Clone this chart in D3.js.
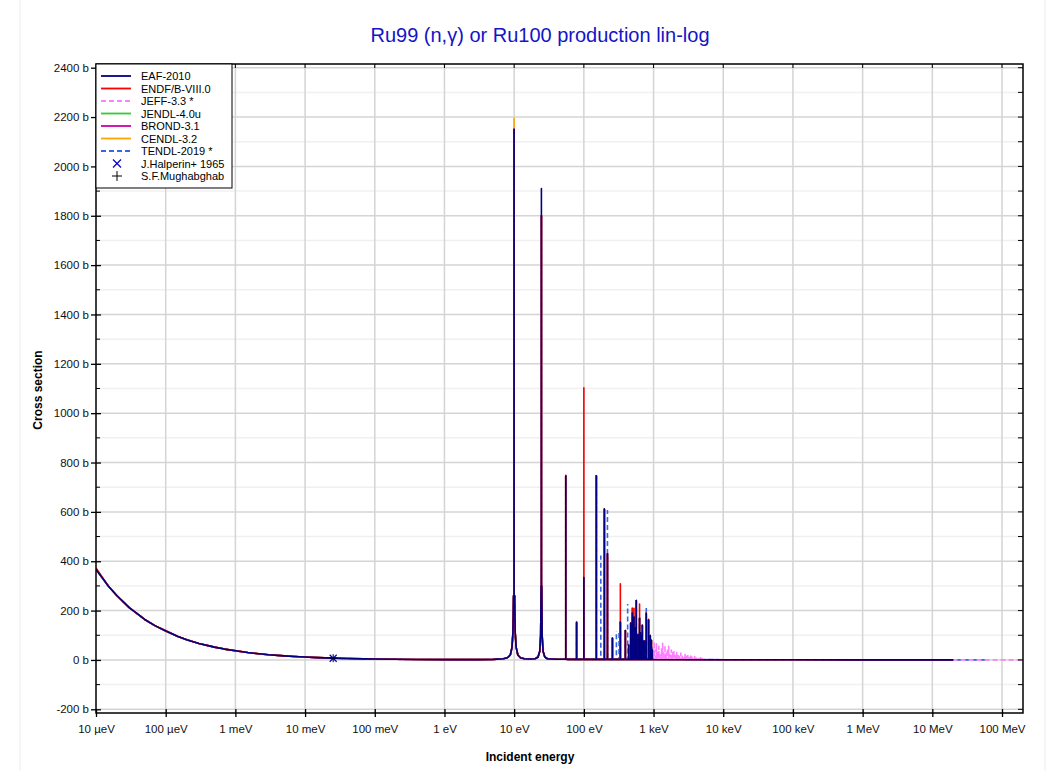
<!DOCTYPE html>
<html>
<head>
<meta charset="utf-8">
<script src="https://cdnjs.cloudflare.com/ajax/libs/d3/7.8.5/d3.min.js"></script>
<style>
body{margin:0;background:#fff}
text{font-family:"Liberation Sans",Arial,sans-serif}
</style>
</head>
<body>
<div id="chart"></div>
<script>
// axis ticks
const xTickValues=[1e-5,1e-4,1e-3,1e-2,1e-1,1,10,100,1e3,1e4,1e5,1e6,1e7,1e8]
const xTickLabels=["10 µeV","100 µeV","1 meV","10 meV","100 meV","1 eV","10 eV","100 eV","1 keV","10 keV","100 keV","1 MeV","10 MeV","100 MeV"]
const yTickValues=[-200,0,200,400,600,800,1000,1200,1400,1600,1800,2000,2200,2400]

// libraries (legend order)
const libNames=["EAF-2010","ENDF/B-VIII.0","JEFF-3.3 *","JENDL-4.0u","BROND-3.1","CENDL-3.2","TENDL-2019 *"]
const libColors=["#000080","#ff0000","#ff80ff","#33cc33","#cc00aa","#ffa500","#3366ee"]
const libDashed=[false,false,true,false,false,false,true]
const libEnd=[2e7,2e7,2e8,2e7,2e7,2e7,6e7]

// smooth part of the curve, shared by all libraries (energy eV, barn)
const baseEnergy=[1e-5,1.5e-5,2e-5,3e-5,5e-5,7e-5,1e-4,1.5e-4,2e-4,3e-4,5e-4,7e-4,1e-3,1.5e-3,2e-3,3e-3,5e-3,7e-3,1e-2,0.015,0.0253,0.04,0.07,0.1,0.2,0.4,1,3,5,
  7,8,8.8,9.3,9.6,9.8,10.15,10.35,10.7,11.3,12.3,14,17,
  20,22,23.3,24.0,24.35,24.85,25.2,26,27.5,30,40,60,1000,1e4,1e5,1e6,2e7,6e7,2e8]
const baseSigma=[367,300,260,212,164,139,117,95,82,67,52,44,37,30,26,21,16.5,14,11.7,9.5,7.3,5.8,4.4,3.7,2.6,1.9,1.3,1.4,2.5,
  5,9,20,50,110,260,260,110,50,20,9,5,4,
  5,12,35,100,300,300,100,35,12,5,3,2.5,2,1,0.5,0.3,0.3,0.3,0.3]
// ENDF/B-VIII.0 lies a touch above the others in the 1/v region
const endfShiftEnergy=[1e-5,1e-4,1e-3,1e-2,0.1,1]
const endfShift=[6,2,0.6,0.2,0.1,0]

// resonance peaks
const resEnergy=[9.97,24.6,55,78.7,100,151,175,197,218,257,293,320,334,394,425,440,470,496,524,545,565,597,630,650,672,690,710,745,786,847,897,930,960]
const eafRes  =[2150,1910,745,152,334,746,0,611,430,88,0,0,154,119,0,60,150,190,174,130,241,103,169,110,99,140,77,77,189,162,99,80,40]
const endfRes =[2150,1800,748,155,1103,746,0,611,430,90,0,0,309,119,0,60,150,210,209,130,241,103,227,110,99,140,77,77,189,165,99,80,40]
const jeffRes =[2150,1800,745,152,334,746,0,611,430,88,0,0,154,119,0,60,150,190,174,130,241,103,169,110,99,140,77,77,189,162,99,80,40]
const jendlRes=[2150,1800,745,152,334,746,0,611,430,88,0,0,154,119,0,60,150,190,174,130,241,103,169,110,99,140,77,77,189,162,99,80,40]
const brondRes=[2150,1800,745,152,334,746,0,611,430,88,0,0,154,119,0,60,150,190,174,130,241,103,169,110,99,140,77,77,189,162,99,80,40]
const cendlRes=[2195,1800,745,152,334,746,0,611,430,88,0,0,154,119,0,60,150,190,174,130,241,103,169,110,99,140,77,77,189,162,99,80,40]
const tendlRes=[2150,1800,745,152,334,746,423,0,608,88,117,117,154,119,227,60,106,223,174,130,241,103,169,110,99,140,77,77,219,162,99,80,60]

// JEFF-3.3 fluctuations between 1 and 5 keV
const jeffUrrEnergy=[1020,1060,1100,1150,1190,1240,1300,1350,1400,1460,1520,1580,1650,1720,1800,1880,1960,2050,2150,2250,2350,2460,2580,2700,2830,2970,3100,3250,3400,3560,3730,3900,4100,4300,4500,4750,5000]
const jeffUrrSigma=[75,40,65,30,55,25,48,70,35,60,28,45,55,22,40,30,38,18,30,25,15,28,20,12,22,15,18,10,16,12,9,14,8,11,7,9,6]

// experimental points
const halperinE=[0.0253], halperinS=[6.9]
const mughabghabE=[0.0253], mughabghabS=[7.3]

const width=1053, height=771
const pLeft=96, pRight=1023, pTop=64, pBottom=713

const svg=d3.select("#chart").append("svg").attr("width",width).attr("height",height)

const xScale=d3.scaleLog().domain([1e-5,2e8]).range([pLeft,pRight])
const yScale=d3.scaleLinear().domain([-215,2415]).range([pBottom,pTop])

// faint page frame lines
svg.append("line").attr("x1",20).attr("x2",20).attr("y1",0).attr("y2",height).attr("stroke","#ececec")
svg.append("line").attr("x1",1045).attr("x2",1045).attr("y1",0).attr("y2",height).attr("stroke","#ececec")

// grid
const minorY=d3.range(-200,2401,100).filter(v=>v%200!=0)
svg.append("g").selectAll("line").data(minorY).enter().append("line")
  .attr("x1",pLeft).attr("x2",pRight).attr("y1",d=>yScale(d)).attr("y2",d=>yScale(d))
  .attr("stroke","#f0f0f0").attr("stroke-width",1.5)
svg.append("g").selectAll("line").data(yTickValues).enter().append("line")
  .attr("x1",pLeft).attr("x2",pRight).attr("y1",d=>yScale(d)).attr("y2",d=>yScale(d))
  .attr("stroke","#d4d4d4").attr("stroke-width",1.5)
svg.append("g").selectAll("line").data(xTickValues.slice(1)).enter().append("line")
  .attr("x1",d=>xScale(d)).attr("x2",d=>xScale(d)).attr("y1",pTop).attr("y2",pBottom)
  .attr("stroke","#d4d4d4").attr("stroke-width",1.5)

// build the path points of one library: smooth curve + vertical spikes
// (for TENDL a null after each spike top breaks the path so dashes stay visible)
function buildSeries(i,res){
  let pts=[]
  baseEnergy.forEach((e,k)=>{
    if(e>libEnd[i]) return
    let s=baseSigma[k]
    if(i==1){ let j=endfShiftEnergy.indexOf(e); if(j>=0) s+=endfShift[j] }
    pts.push({e:e,s:s,peak:false})
  })
  resEnergy.forEach((e,k)=>{ if(res[k]>0) pts.push({e:e,s:res[k],peak:true}) })
  if(i==2) jeffUrrEnergy.forEach((e,k)=>pts.push({e:e,s:jeffUrrSigma[k],peak:true}))
  pts.sort((a,b)=>a.e-b.e)
  let out=[], last=0
  pts.forEach(p=>{
    if(p.peak){
      out.push([p.e,last]); out.push([p.e,p.s])
      if(i==6) out.push(null)
      out.push([p.e,last])
    }
    else { out.push([p.e,p.s]); last=p.s }
  })
  return out
}

const allRes=[eafRes,endfRes,jeffRes,jendlRes,brondRes,cendlRes,tendlRes]

svg.append("clipPath").attr("id","clip").append("rect").attr("x",pLeft).attr("y",pTop).attr("width",pRight-pLeft).attr("height",pBottom-pTop)

const line=d3.line().defined(d=>d!=null).x(d=>xScale(d[0])).y(d=>yScale(d[1]))
const plot=svg.append("g").attr("clip-path","url(#clip)")
// draw last library first so EAF ends up on top
const drawOrder=[6,5,4,3,2,1,0]
drawOrder.forEach(i=>{
  plot.append("path").datum(buildSeries(i,allRes[i]))
    .attr("d",line).attr("fill","none")
    .attr("stroke",libColors[i]).attr("stroke-width",1.6)
    .attr("stroke-linejoin","round")
    .attr("stroke-dasharray",libDashed[i]?"5,3":null)
})

// experimental markers
plot.selectAll(".hal").data(halperinE).enter().append("path").attr("class","hal")
  .attr("d",(d,k)=>{let x=xScale(d),y=yScale(halperinS[k]);return `M${x-3.5},${y-3.5}L${x+3.5},${y+3.5}M${x-3.5},${y+3.5}L${x+3.5},${y-3.5}`})
  .attr("stroke","#0000cc").attr("stroke-width",1.2)
plot.selectAll(".mug").data(mughabghabE).enter().append("path").attr("class","mug")
  .attr("d",(d,k)=>{let x=xScale(d),y=yScale(mughabghabS[k]);return `M${x-4},${y}L${x+4},${y}M${x},${y-4}L${x},${y+4}`})
  .attr("stroke","#000").attr("stroke-width",1)

// frame
svg.append("rect").attr("x",pLeft).attr("y",pTop).attr("width",pRight-pLeft).attr("height",pBottom-pTop)
  .attr("fill","none").attr("stroke","#000").attr("stroke-width",1.5)

// axes
const fmtY=d=>d+" b"
const yAxis=d3.axisLeft(yScale).tickValues(yTickValues).tickFormat(fmtY).tickSizeInner(6).tickSizeOuter(0)
const gy=svg.append("g").attr("transform","translate("+pLeft+",0)").call(yAxis)
gy.select(".domain").remove()
gy.selectAll(".tick line").attr("x2",-5).attr("x1",5).attr("stroke-width",1.3)
gy.selectAll("text").attr("x",-7).style("font-size","11.5px").style("font-family","Liberation Sans, Arial, sans-serif").attr("fill","#111")
svg.append("g").selectAll("line").data(minorY).enter().append("line")
  .attr("x1",pLeft).attr("x2",pLeft+4).attr("y1",d=>yScale(d)).attr("y2",d=>yScale(d)).attr("stroke","#000")
svg.append("g").selectAll("line").data(yTickValues.concat(minorY)).enter().append("line")
  .attr("x1",pRight).attr("x2",pRight-5).attr("y1",d=>yScale(d)).attr("y2",d=>yScale(d)).attr("stroke","#000")

const xAxis=d3.axisBottom(xScale).tickValues(xTickValues).tickFormat((d,i)=>xTickLabels[i]).tickSizeOuter(0)
const gx=svg.append("g").attr("transform","translate(0,"+pBottom+")").call(xAxis)
gx.select(".domain").remove()
gx.selectAll(".tick line").attr("y1",-4).attr("y2",4).attr("stroke-width",1.3)
gx.selectAll("text").attr("y",12).style("font-size","11.5px").style("font-family","Liberation Sans, Arial, sans-serif").attr("fill","#111")
svg.append("g").selectAll("line").data(xTickValues.slice(1)).enter().append("line")
  .attr("x1",d=>xScale(d)).attr("x2",d=>xScale(d)).attr("y1",pTop).attr("y2",pTop+4).attr("stroke","#000")

// titles
svg.append("text").attr("x",540).attr("y",42).attr("text-anchor","middle")
  .style("font-size","20px").attr("fill","#1414c8").text("Ru99 (n,γ) or Ru100 production lin-log")
svg.append("text").attr("x",530).attr("y",761).attr("text-anchor","middle")
  .style("font-size","12px").style("font-weight","bold").text("Incident energy")
svg.append("text").attr("transform","translate(42,390) rotate(-90)").attr("text-anchor","middle")
  .style("font-size","12px").style("font-weight","bold").text("Cross section")

// legend
const lg=svg.append("g")
lg.append("rect").attr("x",pLeft).attr("y",pTop).attr("width",136).attr("height",124).attr("fill","#fff").attr("stroke","#000")
const rowY=i=>76+i*12.5
libNames.forEach((n,i)=>{
  lg.append("line").attr("x1",101).attr("x2",131).attr("y1",rowY(i)).attr("y2",rowY(i))
    .attr("stroke",libColors[i]).attr("stroke-width",1.8).attr("stroke-dasharray",libDashed[i]?"5,3":null)
  lg.append("text").attr("x",141).attr("y",rowY(i)+4).style("font-size","11px").text(n)
})
let hy=rowY(7), hx=117
lg.append("path").attr("d",`M${hx-4},${hy-4}L${hx+4},${hy+4}M${hx-4},${hy+4}L${hx+4},${hy-4}`).attr("stroke","#0000cc").attr("stroke-width",1.2)
lg.append("text").attr("x",141).attr("y",hy+4).style("font-size","11px").text("J.Halperin+ 1965")
let my=rowY(8)
lg.append("path").attr("d",`M${hx-5},${my}L${hx+5},${my}M${hx},${my-5}L${hx},${my+5}`).attr("stroke","#000").attr("stroke-width",1)
lg.append("text").attr("x",141).attr("y",my+4).style("font-size","11px").text("S.F.Mughabghab")
</script>
</body>
</html>
